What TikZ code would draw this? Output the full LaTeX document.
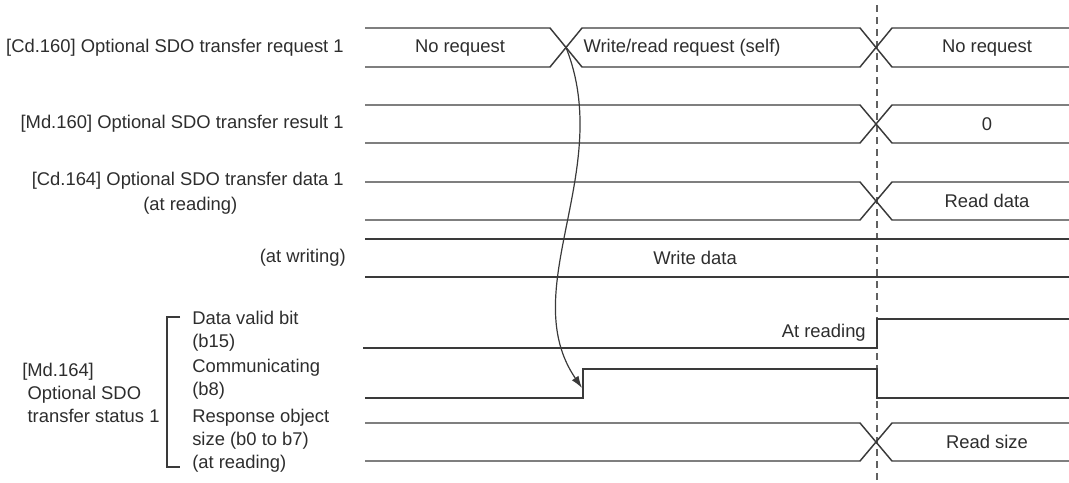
\documentclass[tikz,border=0pt]{standalone}
\usepackage{fontspec}
\setmainfont{Liberation Sans}
\usetikzlibrary{arrows.meta}
\definecolor{sigcol}{RGB}{58,58,58}
\definecolor{txtcol}{RGB}{45,45,45}

\begin{document}
\begin{tikzpicture}[x=0.75pt,y=0.75pt,yscale=-1,
  sig/.style={line width=1.1pt,color=sigcol,line join=miter},
  lbl/.style={inner sep=0pt,text=txtcol,font=\fontsize{13.8}{17.4}\selectfont},
  cursor/.style={color=sigcol!80,line width=0.8pt,dash pattern=on 5pt off 4pt}]
\useasboundingbox (0,0) rectangle (1069,482);

%Dashed cursor line
\draw [cursor] (877,5) -- (877,480) ;

%Bus [Cd.160] two changes
\draw [sig] (365,28) -- (550,28) -- (582,67) -- (860,67) -- (892,28) -- (1069,28) ;
\draw [sig] (365,67) -- (550,67) -- (582,28) -- (860,28) -- (892,67) -- (1069,67) ;
%Buses with one change at the cursor
\foreach \yt/\yb in {105/143,182/220,423/461}{
  \draw [sig] (365,\yt) -- (860,\yt) -- (892,\yb) -- (1069,\yb) ;
  \draw [sig] (365,\yb) -- (860,\yb) -- (892,\yt) -- (1069,\yt) ;
}
%Bus (at writing), no change
\draw [sig] (365,239) -- (1069,239) ;
\draw [sig] (365,277) -- (1069,277) ;

%Data valid bit
\draw [sig] (363,348) -- (877,348) -- (877,319) -- (1069,319) ;
%Communicating
\draw [sig] (365,398) -- (583,398) -- (583,369) -- (877,369) -- (877,398) -- (1069,398) ;

%Bracket
\draw [sig,line width=0.8pt] (180,317) -- (167,317) -- (167,467) -- (180,467) ;

%Request to communicating
\coordinate (reqx) at (566,47.5);
\coordinate (comup) at (582,388);
\draw [sig,line width=0.9pt,-{Latex[length=9pt,width=6pt]}] (reqx) .. controls (615,170) and (515,290) .. (comup) ;

% Text Node
\node [lbl,anchor=east] (cd160) at (344,48) {[Cd.160] Optional SDO transfer request 1};
\node [lbl,anchor=east] (md160) at (344,124) {[Md.160] Optional SDO transfer result 1};
\node [lbl,anchor=east] (cd164) at (344,181) {[Cd.164] Optional SDO transfer data 1};
\node [lbl,anchor=west] (cd164r) at (143,206) {(at reading)};
\node [lbl,anchor=east] (cd164w) at (346,258) {(at writing)};
\node [lbl,align=left,anchor=west] (md164) at (22,393) {[Md.164]\\\hspace{4pt}Optional SDO\\\hspace{4pt}transfer status 1};
\node [lbl,align=left,anchor=west] (dvbit) at (192,331) {Data valid bit\\(b15)};
\node [lbl,align=left,anchor=west] (combit) at (192,379) {Communicating\\(b8)};
\node [lbl,align=left,anchor=west] (rsize) at (192,441) {Response object\\size (b0 to b7)\\(at reading)};

% Text Node
\node [lbl] (noreq1) at (460,48) {No request};
\node [lbl] (wrreq) at (682,48) {Write/read request (self)};
\node [lbl] (noreq2) at (987,48) {No request};
\node [lbl] (res0) at (987,124) {0};
\node [lbl] (rdata) at (987,201) {Read data};
\node [lbl] (wdata) at (695,258) {Write data};
\node [lbl,anchor=east] (atread) at (866,333) {At reading};
\node [lbl] (rdsize) at (987,442) {Read size};

\end{tikzpicture}
\end{document}
